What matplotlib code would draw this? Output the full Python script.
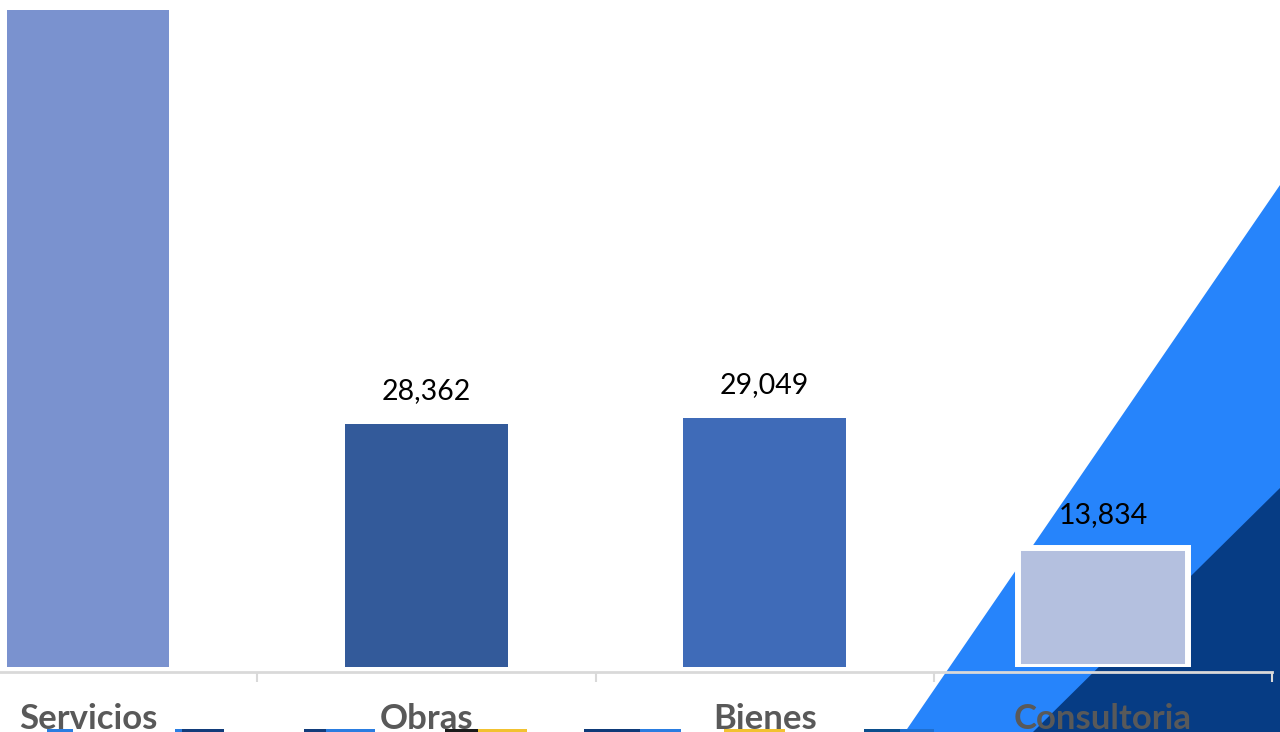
import matplotlib.pyplot as plt
from matplotlib.patches import Polygon, Rectangle
from matplotlib.transforms import blended_transform_factory

# categories and values
categorias = ['Servicios', 'Obras', 'Bienes', 'Consultoria']
valores = [76700, 28362, 29049, 13834]
# the Servicios label sits above the crop of the slide, so it is not shown
etiquetas = [None, '28,362', '29,049', '13,834']
colores = ['#7A92CF', '#335A9A', '#3F6BB8', '#B4C0DF']

W, H = 1280, 732
fig = plt.figure(figsize=(W / 100, H / 100), dpi=100)
fig.patch.set_facecolor('white')

# background shapes of the slide (pixel coords, from bottom-left)
fig.patches.append(Polygon([(905 / W, 0), (1, 547 / H), (1, 0)], closed=True,
                           transform=fig.transFigure, facecolor='#2684FB',
                           edgecolor='none', zorder=-2))
fig.patches.append(Polygon([(1033 / W, 0), (1, 244 / H), (1, 0)], closed=True,
                           transform=fig.transFigure, facecolor='#063C84',
                           edgecolor='none', zorder=-2))

# little logo bits cut at the bottom edge
trozos = [(47, 73, '#2A7DE1'), (175, 182, '#2A7DE1'), (182, 224, '#123C7A'),
          (304, 326, '#123C7A'), (326, 375, '#2A7DE1'), (445, 478, '#1A1A1A'),
          (478, 527, '#F2C230'), (584, 640, '#0E3A78'), (640, 681, '#2A7DE1'),
          (724, 785, '#F2C230'), (864, 900, '#0B4E8C'), (900, 934, '#1E6FD0')]
for x0, x1, c in trozos:
    fig.patches.append(Rectangle((x0 / W, 0), (x1 - x0) / W, 3 / H,
                                 transform=fig.transFigure, facecolor=c,
                                 edgecolor='none', zorder=-2))

ax = fig.add_axes([-81 / W, 65 / H, 1353 / W, 667 / H])
ax.patch.set_alpha(0)

x = range(len(categorias))
barras = ax.bar(x, valores, width=[0.48, 0.48, 0.48, 0.503], color=colores, zorder=2)
barras[3].set_edgecolor('white')
barras[3].set_linewidth(4.3)

for i, v in enumerate(valores):
    if etiquetas[i] is None:
        continue
    ax.annotate(etiquetas[i], (i, v), xytext=(0, 18), textcoords='offset points',
                ha='center', va='baseline', fontsize=20.5, family='Lato',
                color='black', zorder=3)

ax.set_xlim(-0.5, 3.5)
ax.set_ylim(0, 77850)

for s in ['top', 'right', 'left']:
    ax.spines[s].set_visible(False)
ax.spines['bottom'].set_color('#D9D9D9')
ax.spines['bottom'].set_linewidth(2)
ax.spines['bottom'].set_position(('outward', 3.3))
ax.set_yticks([])
ax.set_xticks([])
ax.set_xticks([0.5, 1.5, 2.5, 3.5], minor=True)
ax.tick_params(axis='x', which='minor', length=7.5, width=1.5, color='#D9D9D9',
               direction='out')

trans = blended_transform_factory(ax.transData, fig.transFigure)
for i, cat in enumerate(categorias):
    ax.text(i, 3 / H, cat, transform=trans, ha='center', va='baseline',
            fontsize=25, fontweight='bold', family='Lato', color='#595959')

fig.savefig('out.png', dpi=100)
